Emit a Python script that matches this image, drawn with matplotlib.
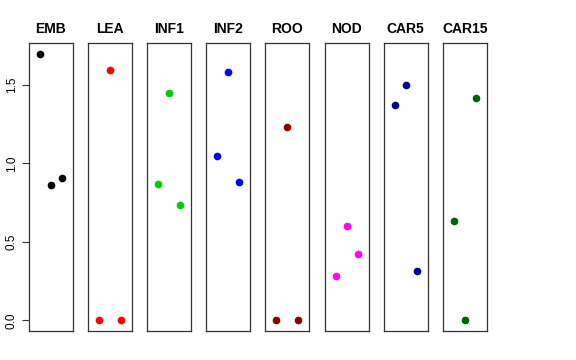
import matplotlib
matplotlib.use("Agg")
import matplotlib.pyplot as plt

# panel names, one colour per panel, three values per panel (x = 1, 2, 3)
groups = ["EMB", "LEA", "INF1", "INF2", "ROO", "NOD", "CAR5", "CAR15"]
colors = ["black", "red", "#00CD00", "blue", "#8B0000", "magenta", "#00008B", "#006400"]
emb = [1.70, 0.86, 0.91]
lea = [0.0, 1.595, 0.0]
inf1 = [0.868, 1.449, 0.734]
inf2 = [1.047, 1.583, 0.881]
roo = [0.0, 1.232, 0.0]
nod = [0.281, 0.600, 0.421]
car5 = [1.374, 1.502, 0.313]
car15 = [0.634, 0.0, 1.419]
values = [emb, lea, inf1, inf2, roo, nod, car5, car15]
positions = [1, 2, 3]
yticks = [0.0, 0.5, 1.0, 1.5]

plt.rcParams["font.family"] = ["Liberation Sans", "DejaVu Sans"]

W, H = 576, 360
fig = plt.figure(figsize=(W / 100, H / 100), dpi=100)

left0 = 29
step = 59.1
pw = 44
top, bottom = 43, 331

for i, (name, col, vals) in enumerate(zip(groups, colors, values)):
    x0 = left0 + i * step
    ax = fig.add_axes([x0 / W, 1 - bottom / H, pw / W, (bottom - top) / H])
    ax.plot(positions, vals, "o", color=col, ms=4.5, mec=col)
    ax.set_xlim(0, 4)
    ax.set_ylim(-0.068, 1.768)
    ax.set_xticks([])
    for s in ax.spines.values():
        s.set_linewidth(0.9)
        s.set_color("#333333")
    ax.set_title(name, fontsize=10, fontweight="bold", pad=7)
    if i == 0:
        ax.set_yticks(yticks)
        ax.set_yticklabels([f"{v:.1f}" for v in yticks], rotation=90, va="center", fontsize=8.5)
        ax.tick_params(axis="y", length=5, width=0.8, color="#333333", pad=3)
    else:
        ax.set_yticks([])

fig.savefig("out.png", dpi=100)
